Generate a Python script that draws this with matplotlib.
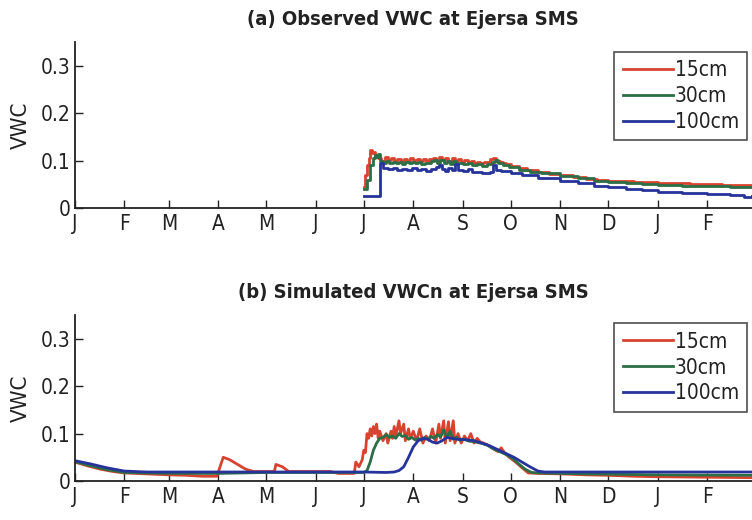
import matplotlib
matplotlib.use("Agg")
import matplotlib.pyplot as plt

plt.rcParams['font.family'] = ['DejaVu Sans']
plt.rcParams['font.stretch'] = 'condensed'

# ---------------- data ----------------
month_ticks = [0, 31, 59, 90, 120, 151, 181, 212, 243, 273, 304, 334, 365, 396]
month_labels = ['J', 'F', 'M', 'A', 'M', 'J', 'J', 'A', 'S', 'O', 'N', 'D', 'J', 'F']
series_labels = ['15cm', '30cm', '100cm']

# (a) observed
obs15_day = [181, 182, 183, 184, 185, 186, 187, 188, 189, 190, 192, 194, 196, 198, 200, 202, 204, 206, 208, 210,
             212, 214, 216, 218, 220, 222, 224, 226, 228, 230, 232, 234, 236, 238, 240, 242, 244, 246, 248, 250,
             252, 254, 256, 258, 260, 262, 264, 266, 268, 270, 273, 278, 283, 290, 297, 304, 312, 320, 327, 334,
             342, 350, 358, 365, 375, 385, 396, 405, 415, 424]
obs15_val = [0.045, 0.070, 0.090, 0.105, 0.122, 0.115, 0.118, 0.108, 0.112, 0.105, 0.100, 0.108, 0.102, 0.106, 0.100,
             0.104, 0.099, 0.103, 0.100, 0.105, 0.101, 0.104, 0.100, 0.103, 0.099, 0.104, 0.106, 0.100, 0.108, 0.101,
             0.105, 0.099, 0.106, 0.100, 0.103, 0.098, 0.102, 0.097, 0.099, 0.096, 0.098, 0.095, 0.097, 0.098, 0.104,
             0.106, 0.100, 0.098, 0.095, 0.092, 0.089, 0.084, 0.080, 0.076, 0.072, 0.069, 0.066, 0.062, 0.060, 0.058,
             0.057, 0.055, 0.054, 0.053, 0.052, 0.051, 0.050, 0.049, 0.048, 0.047]

obs30_day = [181, 183, 185, 187, 188, 189, 190, 191, 193, 195, 197, 199, 201, 203, 205, 207, 209, 211, 213, 215,
             217, 219, 221, 223, 225, 227, 229, 231, 233, 235, 237, 239, 241, 243, 246, 249, 252, 255, 258, 261,
             263, 265, 268, 272, 278, 285, 292, 304, 315, 325, 334, 345, 355, 365, 380, 396, 410, 424]
obs30_val = [0.040, 0.060, 0.090, 0.105, 0.112, 0.108, 0.113, 0.100, 0.096, 0.100, 0.095, 0.098, 0.094, 0.097, 0.093,
             0.097, 0.094, 0.098, 0.095, 0.097, 0.093, 0.096, 0.094, 0.099, 0.101, 0.094, 0.102, 0.095, 0.099, 0.093,
             0.100, 0.094, 0.096, 0.092, 0.094, 0.090, 0.092, 0.089, 0.092, 0.098, 0.101, 0.095, 0.091, 0.087, 0.081,
             0.076, 0.073, 0.067, 0.063, 0.058, 0.055, 0.052, 0.050, 0.049, 0.047, 0.046, 0.045, 0.044]

obs100_day = [181, 190, 191, 193, 196, 199, 202, 205, 208, 211, 214, 217, 220, 223, 226, 228, 230, 232, 234, 236,
              238, 240, 243, 246, 249, 252, 255, 258, 260, 262, 264, 267, 273, 280, 290, 304, 315, 325, 334, 345,
              355, 365, 380, 396, 410, 418, 419, 424]
obs100_val = [0.025, 0.025, 0.095, 0.085, 0.082, 0.084, 0.080, 0.083, 0.081, 0.084, 0.080, 0.083, 0.079, 0.082,
              0.086, 0.090, 0.082, 0.078, 0.085, 0.080, 0.092, 0.080, 0.078, 0.082, 0.076, 0.075, 0.074, 0.073,
              0.076, 0.090, 0.080, 0.078, 0.074, 0.069, 0.064, 0.058, 0.052, 0.047, 0.044, 0.040, 0.037, 0.034,
              0.032, 0.030, 0.028, 0.027, 0.024, 0.025]

# (b) simulated
sim15_day = [0, 8, 16, 24, 31, 45, 59, 70, 80, 89, 90, 91, 93, 97, 102, 107, 112, 120, 125, 126, 130, 134, 145,
             160, 165, 175, 176, 178, 180, 181, 182, 183, 184, 185, 186, 187, 188, 189, 190, 191, 193, 195, 196,
             198, 199, 200, 201, 203, 204, 206, 207, 209, 210, 212, 214, 216, 218, 220, 222, 224, 226, 228, 229,
             231, 232, 234, 235, 237, 238, 240, 242, 244, 246, 248, 250, 252, 254, 256, 259, 262, 265, 267, 269,
             272, 276, 280, 284, 290, 304, 320, 334, 350, 365, 396, 424]
sim15_val = [0.040, 0.032, 0.025, 0.020, 0.017, 0.015, 0.013, 0.012, 0.010, 0.010, 0.020, 0.030, 0.050, 0.045,
             0.035, 0.025, 0.020, 0.020, 0.020, 0.035, 0.030, 0.020, 0.020, 0.020, 0.016, 0.016, 0.040, 0.030,
             0.045, 0.065, 0.060, 0.100, 0.090, 0.110, 0.095, 0.115, 0.100, 0.120, 0.090, 0.105, 0.085, 0.100,
             0.080, 0.105, 0.090, 0.115, 0.095, 0.127, 0.100, 0.120, 0.085, 0.110, 0.090, 0.105, 0.085, 0.110,
             0.080, 0.095, 0.085, 0.110, 0.080, 0.120, 0.090, 0.127, 0.080, 0.125, 0.085, 0.127, 0.080, 0.100,
             0.080, 0.095, 0.085, 0.100, 0.080, 0.090, 0.082, 0.080, 0.075, 0.068, 0.062, 0.070, 0.060, 0.050,
             0.040, 0.028, 0.017, 0.016, 0.015, 0.013, 0.012, 0.010, 0.009, 0.008, 0.007]

sim30_day = [0, 10, 20, 31, 59, 90, 120, 150, 181, 183, 185, 187, 189, 191, 193, 195, 197, 199, 201, 203, 205,
             207, 209, 211, 213, 215, 217, 219, 221, 223, 225, 227, 229, 231, 233, 235, 237, 239, 241, 244, 247,
             250, 254, 258, 262, 266, 270, 274, 278, 282, 286, 290, 320, 365, 424]
sim30_val = [0.041, 0.032, 0.024, 0.018, 0.016, 0.016, 0.018, 0.018, 0.018, 0.022, 0.040, 0.065, 0.080, 0.090,
             0.092, 0.098, 0.092, 0.095, 0.090, 0.100, 0.094, 0.096, 0.088, 0.092, 0.087, 0.090, 0.086, 0.092,
             0.088, 0.094, 0.090, 0.098, 0.093, 0.108, 0.092, 0.105, 0.088, 0.092, 0.086, 0.088, 0.084, 0.083,
             0.080, 0.076, 0.068, 0.062, 0.056, 0.048, 0.036, 0.025, 0.018, 0.017, 0.015, 0.013, 0.012]

sim100_day = [0, 10, 20, 31, 45, 59, 120, 180, 195, 200, 203, 206, 209, 212, 215, 218, 221, 224, 227, 230, 233,
              236, 240, 245, 250, 255, 260, 265, 270, 275, 280, 285, 290, 294, 424]
sim100_val = [0.043, 0.036, 0.028, 0.021, 0.019, 0.019, 0.019, 0.019, 0.018, 0.019, 0.022, 0.030, 0.050, 0.072,
              0.085, 0.090, 0.088, 0.082, 0.080, 0.085, 0.092, 0.090, 0.088, 0.087, 0.085, 0.080, 0.074, 0.066,
              0.058, 0.050, 0.040, 0.030, 0.021, 0.019, 0.019]

colors = ['#d8432f', '#2c6e45', '#26339b']

# ---------------- figure ----------------
fig = plt.figure(figsize=(7.52, 5.2), dpi=100)
ax_a = fig.add_axes([0.0993, 0.600, 0.9007, 0.319])
ax_b = fig.add_axes([0.0993, 0.075, 0.9007, 0.319])

panels = [
    (ax_a, '(a) Observed VWC at Ejersa SMS',
     [(obs15_day, obs15_val), (obs30_day, obs30_val), (obs100_day, obs100_val)], 0.94, 'steps-post'),
    (ax_b, '(b) Simulated VWCn at Ejersa SMS',
     [(sim15_day, sim15_val), (sim30_day, sim30_val), (sim100_day, sim100_val)], 0.95, 'default'),
]

for ax, title, data, legy, ds in panels:
    for (d, v), c, lab in zip(data, colors, series_labels):
        ax.plot(d, v, color=c, lw=2.0, label=lab, drawstyle=ds)
    ax.set_xlim(0, 424)
    ax.set_ylim(0, 0.35)
    ax.set_xticks(month_ticks)
    ax.set_xticklabels(month_labels)
    ax.set_yticks([0, 0.1, 0.2, 0.3])
    ax.set_yticklabels(['0', '0.1', '0.2', '0.3'])
    ax.spines['top'].set_visible(False)
    ax.spines['right'].set_visible(False)
    for s in ('left', 'bottom'):
        ax.spines[s].set_linewidth(1.3)
        ax.spines[s].set_color('#222222')
    ax.tick_params(axis='both', direction='in', length=6, width=1.0, color='#222222',
                   labelsize=15, labelcolor='#222222')
    ax.tick_params(axis='x', pad=4)
    ax.tick_params(axis='y', pad=3)
    ax.set_ylabel('VWC', fontsize=16, color='#222222', labelpad=7)
    ax.set_title(title, fontsize=14.5, fontweight='bold', color='#222222', pad=12)
    leg = ax.legend(loc='upper right', bbox_to_anchor=(0.993, legy), fontsize=15,
                    frameon=True, fancybox=False, edgecolor='#222222', handlelength=2.4,
                    handletextpad=0.1, labelspacing=0.28, borderpad=0.4, borderaxespad=0)
    leg.get_frame().set_linewidth(1.2)
    for t in leg.get_texts():
        t.set_color('#222222')

fig.savefig('out.png', dpi=100)
